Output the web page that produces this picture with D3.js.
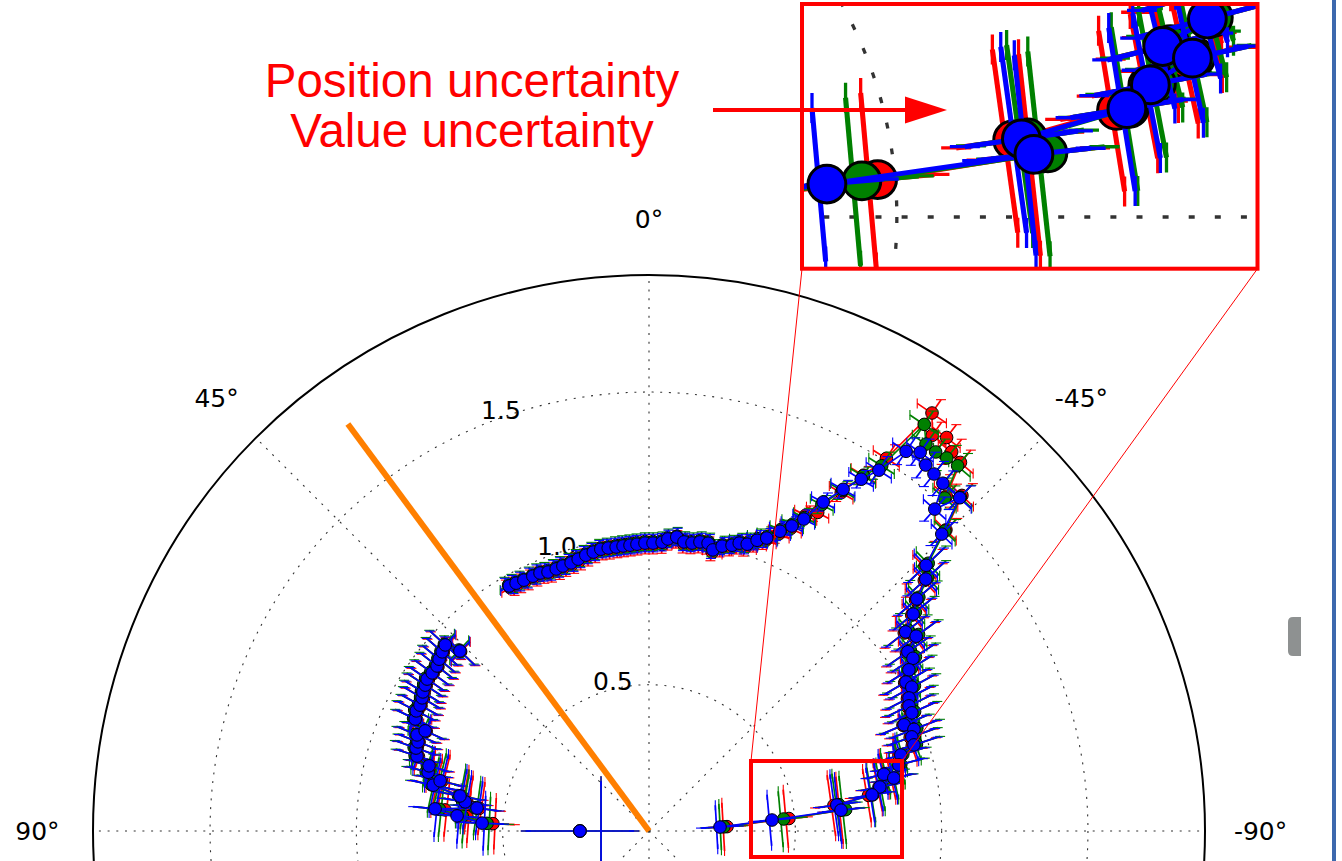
<!DOCTYPE html>
<html>
<head>
<meta charset="utf-8">
<script src="https://cdn.jsdelivr.net/npm/d3@7"></script>
<style>
  body { margin: 0; background: #fff; overflow: hidden; }
</style>
</head>
<body>
<svg id="root" width="1342" height="861"></svg>
<script>
// ---- data (theta in degrees, positive to the left; null = break in the trace) ----
const theta = [
  90.0, null,
  87.3, 85.5, 84.1, 82.4, 81.0, 79.5, 78.0, 76.5, 75.1, 73.5, 72.1, 70.4, 68.9, 67.5,
  65.9, 64.4, 62.7, 61.2, 59.6, 58.4, 56.9, 55.6, 53.9, 52.1, 50.7, 49.1, 47.6, 46.4, null,
  29.7, 28.2, 26.5, 24.5, 22.9, 21.3, 19.5, 18.0, 16.2, 14.6, 12.9, 11.3, 9.7, 8.2, 6.6,
  5.2, 3.8, 2.4, 0.8, -0.8, -2.6, -3.7, -5.4, -6.9, -8.5, -10.0, -11.6, -12.8, -14.4, -16.2,
  -17.4, -18.9, -20.4, -21.9, -23.6, -25.1, -26.4, -27.9, -29.6, -31.1, -32.5, -34.1, -35.6, -37.1, -38.6,
  -40.2, -41.6, -43.0, -44.6, -46.2, -47.7, -49.1, -50.6, -52.2, -53.9, -55.3, -56.8, -58.2, -59.9, -61.3,
  -62.9, -64.3, -65.8, -67.4, -69.0, -70.3, -72.0, -73.2, -75.2, -76.4, -77.8, -79.2, -80.8, -82.1, -83.8,
  -84.9, -86.8
];

const rBlue = [
  0.236, null,
  0.571, 0.658, 0.735, 0.593, 0.636, 0.657, 0.754, 0.734, 0.781, 0.784, 0.833, 0.845, 0.846, 0.858,
  0.838, 0.886, 0.895, 0.893, 0.899, 0.907, 0.913, 0.919, 0.917, 0.918, 0.927, 0.935, 0.943, 0.892, null,
  0.964, 0.961, 0.958, 0.957, 0.957, 0.950, 0.950, 0.952, 0.954, 0.960, 0.967, 0.972, 0.977, 0.977, 0.977,
  0.978, 0.979, 0.981, 0.984, 0.984, 0.988, 1.000, 1.009, 0.995, 0.995, 1.003, 1.004, 0.985, 1.005, 1.017,
  1.031, 1.036, 1.060, 1.079, 1.118, 1.151, 1.190, 1.272, 1.343, 1.404, 1.462, 1.567, 1.592, 1.568, 1.561,
  1.556, 1.471, 1.557, 1.425, 1.312, 1.279, 1.211, 1.168, 1.110, 1.130, 1.076, 1.078, 1.045, 1.015, 1.024,
  0.998, 0.986, 0.985, 0.944, 0.970, 0.954, 0.952, 0.899, 0.883, 0.826, 0.856, 0.803, 0.772, 0.648, 0.660,
  0.422, 0.243
];

const rGreen = [
  0.236, null,
  0.554, 0.640, 0.720, 0.600, 0.645, 0.662, 0.760, 0.742, 0.788, 0.790, 0.840, 0.852, 0.851, 0.864,
  0.846, 0.892, 0.901, 0.899, 0.905, 0.913, 0.919, 0.925, 0.923, 0.924, 0.932, 0.940, 0.947, 0.897, null,
  0.968, 0.965, 0.962, 0.961, 0.961, 0.955, 0.954, 0.956, 0.958, 0.964, 0.971, 0.976, 0.981, 0.981, 0.982,
  0.983, 0.984, 0.986, 0.989, 0.989, 0.993, 1.004, 1.012, 1.000, 1.000, 1.008, 1.009, 0.991, 1.010, 1.022,
  1.036, 1.041, 1.066, 1.085, 1.124, 1.158, 1.196, 1.262, 1.338, 1.417, 1.480, 1.678, 1.626, 1.624, 1.631,
  1.634, 1.522, 1.560, 1.440, 1.322, 1.288, 1.220, 1.178, 1.120, 1.140, 1.086, 1.088, 1.055, 1.025, 1.034,
  1.008, 0.996, 0.995, 0.954, 0.980, 0.963, 0.961, 0.906, 0.890, 0.835, 0.860, 0.810, 0.775, 0.655, 0.676,
  0.462, 0.256
];

const rRed = [
  0.236, null,
  0.534, 0.624, 0.701, 0.585, 0.630, 0.650, 0.748, 0.728, 0.776, 0.779, 0.828, 0.841, 0.842, 0.853,
  0.834, 0.881, 0.890, 0.889, 0.894, 0.902, 0.909, 0.914, 0.913, 0.914, 0.923, 0.931, 0.939, 0.889, null,
  0.957, 0.954, 0.951, 0.950, 0.949, 0.943, 0.942, 0.945, 0.947, 0.952, 0.959, 0.965, 0.970, 0.969, 0.970,
  0.971, 0.972, 0.974, 0.977, 0.977, 0.980, 0.992, 1.001, 0.987, 0.988, 0.995, 0.996, 0.977, 0.997, 1.009,
  1.022, 1.028, 1.052, 1.072, 1.108, 1.142, 1.205, 1.232, 1.330, 1.420, 1.510, 1.725, 1.663, 1.686, 1.658,
  1.649, 1.530, 1.568, 1.445, 1.305, 1.272, 1.205, 1.162, 1.104, 1.124, 1.070, 1.072, 1.040, 1.010, 1.018,
  0.992, 0.980, 0.979, 0.940, 0.964, 0.948, 0.946, 0.892, 0.885, 0.830, 0.850, 0.800, 0.760, 0.638, 0.665,
  0.480, 0.267
];

// value uncertainty (radial, in r units)
const errR = [
  0.185, null,
  0.075, 0.075, 0.075, 0.075, 0.075, 0.075, 0.075, 0.075, 0.070, 0.070, 0.070, 0.070, 0.070, 0.070,
  0.070, 0.070, 0.070, 0.070, 0.070, 0.070, 0.070, 0.070, 0.070, 0.070, 0.070, 0.070, 0.070, 0.070, null,
  0.030, 0.030, 0.030, 0.030, 0.030, 0.030, 0.030, 0.030, 0.030, 0.030, 0.030, 0.030, 0.030, 0.030, 0.030,
  0.030, 0.030, 0.030, 0.030, 0.030, 0.030, 0.030, 0.030, 0.030, 0.030, 0.030, 0.030, 0.030, 0.030, 0.030,
  0.030, 0.035, 0.035, 0.035, 0.035, 0.035, 0.035, 0.035, 0.035, 0.035, 0.055, 0.055, 0.055, 0.055, 0.055,
  0.055, 0.055, 0.055, 0.055, 0.085, 0.085, 0.085, 0.085, 0.085, 0.085, 0.085, 0.085, 0.085, 0.085, 0.085,
  0.085, 0.085, 0.085, 0.085, 0.085, 0.085, 0.085, 0.085, 0.085, 0.065, 0.065, 0.065, 0.065, 0.065, 0.065,
  0.065, 0.065
];

// position uncertainty (angular, in degrees)
const errTheta = [
  46, null,
  9.5, 8.3, 7.5, 9.0, 8.5, 8.3, 7.3, 7.5, 4.0, 4.0, 3.5, 3.5, 3.0, 3.0,
  3.0, 3.0, 3.0, 3.0, 3.0, 3.0, 3.0, 3.0, 3.0, 3.0, 3.0, 3.0, 3.0, 3.0, null,
  2.0, 2.0, 2.0, 2.0, 2.0, 2.0, 2.0, 2.0, 2.0, 2.0, 2.0, 2.0, 2.0, 2.0, 2.0,
  2.0, 2.0, 2.0, 2.0, 2.0, 2.0, 2.0, 2.0, 2.0, 2.0, 2.0, 2.0, 2.0, 2.0, 2.0,
  2.0, 2.0, 2.0, 2.0, 2.0, 2.0, 2.0, 2.0, 2.0, 2.0, 2.0, 2.0, 2.0, 2.0, 2.0,
  2.0, 2.0, 2.0, 2.0, 2.5, 2.5, 2.5, 2.5, 2.5, 2.5, 2.5, 2.5, 2.5, 2.5, 2.5,
  2.5, 2.5, 2.5, 2.5, 2.5, 2.5, 3.5, 4.0, 4.5, 5.0, 5.0, 6.0, 7.0, 9.5, 10.0,
  12.0, 18.0
];

const rTicks = [0.5, 1.0, 1.5];
const rTickLabels = ["0.5", "1.0", "1.5"];
const gridAngles = [0, 45, 90, 135, 180, -135, -90, -45];
const thetaTicks = [0, 45, 90, -45, -90];
const thetaTickLabels = ["0°", "45°", "90°", "-45°", "-90°"];
const guideAngle = 36.5;   // orange reference direction
const guideLength = 1.73;
const notes = ["Position uncertainty", "Value uncertainty"];

const series = [
  { name: "red", color: "#ff0000", r: rRed },
  { name: "green", color: "#008000", r: rGreen },
  { name: "blue", color: "#0000ff", r: rBlue }
];

// ---- layout ----
const cx = 649, cy = 831;
const R = 556;
const rMax = 1.9;
const markerRadius = 6.3;
const capHalf = 5;

const inset = { x: 802, y: 4, w: 455.5, h: 264.7, k: 3, x0: 763.7, y0: 760 };
const srcBox = { x: 751, y: 761, w: 151, h: 96 };

const svg = d3.select("#root");

const rScale = d3.scaleLinear().domain([0, rMax]).range([0, R]);
// counter-clockwise from the top
const aScale = d3.scaleLinear().domain([-180, 180]).range([Math.PI, -Math.PI]);
const pt = (t, r) => d3.pointRadial(aScale(t), rScale(r));

svg.append("rect").attr("width", 1342).attr("height", 861).attr("fill", "#fff");

const plot = svg.append("g")
    .attr("id", "plot")
    .attr("transform", `translate(${cx},${cy})`);

// grid
const grid = plot.append("g")
    .attr("fill", "none")
    .attr("stroke", "#333")
    .attr("stroke-width", 1.1)
    .attr("stroke-dasharray", "2,6.7");

grid.selectAll("circle")
    .data(rTicks)
    .join("circle")
    .attr("r", d => rScale(d));

grid.selectAll("line")
    .data(gridAngles)
    .join("line")
    .attr("x1", 0)
    .attr("y1", 0)
    .attr("x2", d => pt(d, rMax)[0])
    .attr("y2", d => pt(d, rMax)[1]);

plot.append("circle")
    .attr("r", rScale(rMax))
    .attr("fill", "none")
    .attr("stroke", "#000")
    .attr("stroke-width", 2);

// tick labels
plot.selectAll(".thetaLabel")
    .data(thetaTicks)
    .join("text")
    .attr("class", "thetaLabel")
    .attr("x", d => pt(d, rMax * 1.1)[0])
    .attr("y", d => pt(d, rMax * 1.1)[1])
    .attr("text-anchor", "middle")
    .attr("dominant-baseline", "central")
    .attr("font-family", "DejaVu Sans")
    .attr("font-size", 25)
    .text((d, i) => thetaTickLabels[i]);

plot.selectAll(".rLabel")
    .data(rTicks)
    .join("text")
    .attr("class", "rLabel")
    .attr("x", d => pt(22.5, d)[0])
    .attr("y", d => pt(22.5, d)[1] - 6)
    .attr("font-family", "DejaVu Sans")
    .attr("font-size", 25)
    .text((d, i) => rTickLabels[i]);

// orange reference line
plot.append("line")
    .attr("x1", 0)
    .attr("y1", 0)
    .attr("x2", pt(guideAngle, guideLength)[0])
    .attr("y2", pt(guideAngle, guideLength)[1])
    .attr("stroke", "#ff7f00")
    .attr("stroke-width", 6);

// series with error bars
function drawSeries(s) {
    const pts = theta.map((t, i) => t == null ? null
        : { t: t, r: s.r[i], er: errR[i], et: errTheta[i] });
    const valid = pts.filter(d => d);
    const g = plot.append("g").attr("id", "series-" + s.name);

    const bars = g.append("g")
        .attr("stroke", s.color)
        .attr("fill", "none");

    // angular error: straight chord between theta - e and theta + e
    bars.selectAll(".chord")
        .data(valid)
        .join("line")
        .attr("class", "chord")
        .attr("stroke-width", 1.7)
        .attr("x1", d => pt(d.t - d.et, d.r)[0])
        .attr("y1", d => pt(d.t - d.et, d.r)[1])
        .attr("x2", d => pt(d.t + d.et, d.r)[0])
        .attr("y2", d => pt(d.t + d.et, d.r)[1]);

    bars.selectAll(".chordCap")
        .data(valid.flatMap(d => [pt(d.t - d.et, d.r), pt(d.t + d.et, d.r)]))
        .join("line")
        .attr("class", "chordCap")
        .attr("stroke-width", 1.1)
        .attr("x1", p => p[0]).attr("x2", p => p[0])
        .attr("y1", p => p[1] - capHalf).attr("y2", p => p[1] + capHalf);

    // radial error
    bars.selectAll(".radial")
        .data(valid)
        .join("line")
        .attr("class", "radial")
        .attr("stroke-width", 1.7)
        .attr("x1", d => pt(d.t, d.r - d.er)[0])
        .attr("y1", d => pt(d.t, d.r - d.er)[1])
        .attr("x2", d => pt(d.t, d.r + d.er)[0])
        .attr("y2", d => pt(d.t, d.r + d.er)[1]);

    bars.selectAll(".radialCap")
        .data(valid.flatMap(d => [pt(d.t, d.r - d.er), pt(d.t, d.r + d.er)]))
        .join("line")
        .attr("class", "radialCap")
        .attr("stroke-width", 1.1)
        .attr("x1", p => p[0] - capHalf).attr("x2", p => p[0] + capHalf)
        .attr("y1", p => p[1]).attr("y2", p => p[1]);

    const line = d3.line()
        .defined(d => d)
        .x(d => pt(d.t, d.r)[0])
        .y(d => pt(d.t, d.r)[1]);

    g.append("path")
        .datum(pts)
        .attr("d", line)
        .attr("fill", "none")
        .attr("stroke", s.color)
        .attr("stroke-width", 1.6);

    g.selectAll(".marker")
        .data(valid)
        .join("circle")
        .attr("class", "marker")
        .attr("cx", d => pt(d.t, d.r)[0])
        .attr("cy", d => pt(d.t, d.r)[1])
        .attr("r", markerRadius)
        .attr("fill", s.color)
        .attr("stroke", "#000")
        .attr("stroke-width", 1);
}

series.forEach(drawSeries);

// ---- zoomed inset ----
svg.append("clipPath")
    .attr("id", "insetClip")
    .append("rect")
    .attr("x", inset.x).attr("y", inset.y)
    .attr("width", inset.w).attr("height", inset.h);

const insetG = svg.append("g").attr("clip-path", "url(#insetClip)");
insetG.append("rect")
    .attr("x", inset.x).attr("y", inset.y)
    .attr("width", inset.w).attr("height", inset.h)
    .attr("fill", "#fff");
insetG.append("use")
    .attr("href", "#plot")
    .attr("transform", `translate(${inset.x - inset.k * inset.x0},${inset.y - inset.k * inset.y0}) scale(${inset.k})`);

const annot = svg.append("g").attr("id", "annotation");

annot.append("rect")
    .attr("x", inset.x).attr("y", inset.y)
    .attr("width", inset.w).attr("height", inset.h)
    .attr("fill", "none").attr("stroke", "#ff0000").attr("stroke-width", 4);

annot.append("rect")
    .attr("x", srcBox.x).attr("y", srcBox.y)
    .attr("width", srcBox.w).attr("height", srcBox.h)
    .attr("fill", "none").attr("stroke", "#ff0000").attr("stroke-width", 4);

// connectors from inset corners to source box
annot.selectAll(".connector")
    .data([[inset.x, srcBox.x], [inset.x + inset.w, srcBox.x + srcBox.w]])
    .join("line")
    .attr("class", "connector")
    .attr("x1", d => d[0]).attr("y1", inset.y + inset.h)
    .attr("x2", d => d[1]).attr("y2", srcBox.y)
    .attr("stroke", "#ff0000").attr("stroke-width", 1);

// arrow
annot.append("line")
    .attr("x1", 713).attr("y1", 110)
    .attr("x2", 906).attr("y2", 110)
    .attr("stroke", "#ff0000").attr("stroke-width", 4);
annot.append("path")
    .attr("d", "M905,96.5 L947,110 L905,123.5 Z")
    .attr("fill", "#ff0000");

annot.selectAll(".note")
    .data(notes)
    .join("text")
    .attr("class", "note")
    .attr("x", 472)
    .attr("y", (d, i) => 97 + i * 50)
    .attr("text-anchor", "middle")
    .attr("font-family", "Liberation Sans, Arial, sans-serif")
    .attr("font-size", 47.5)
    .attr("fill", "#ff0000")
    .text(d => d);

// page chrome at the right edge
svg.append("rect")
    .attr("x", 1332).attr("y", 0).attr("width", 4).attr("height", 861)
    .attr("fill", "#3d68ad");
svg.append("path")
    .attr("d", "M1301,617 L1293,617 Q1288,617 1288,622 L1288,651 Q1288,656 1293,656 L1301,656 Z")
    .attr("fill", "#8e9191");
</script>
</body>
</html>
